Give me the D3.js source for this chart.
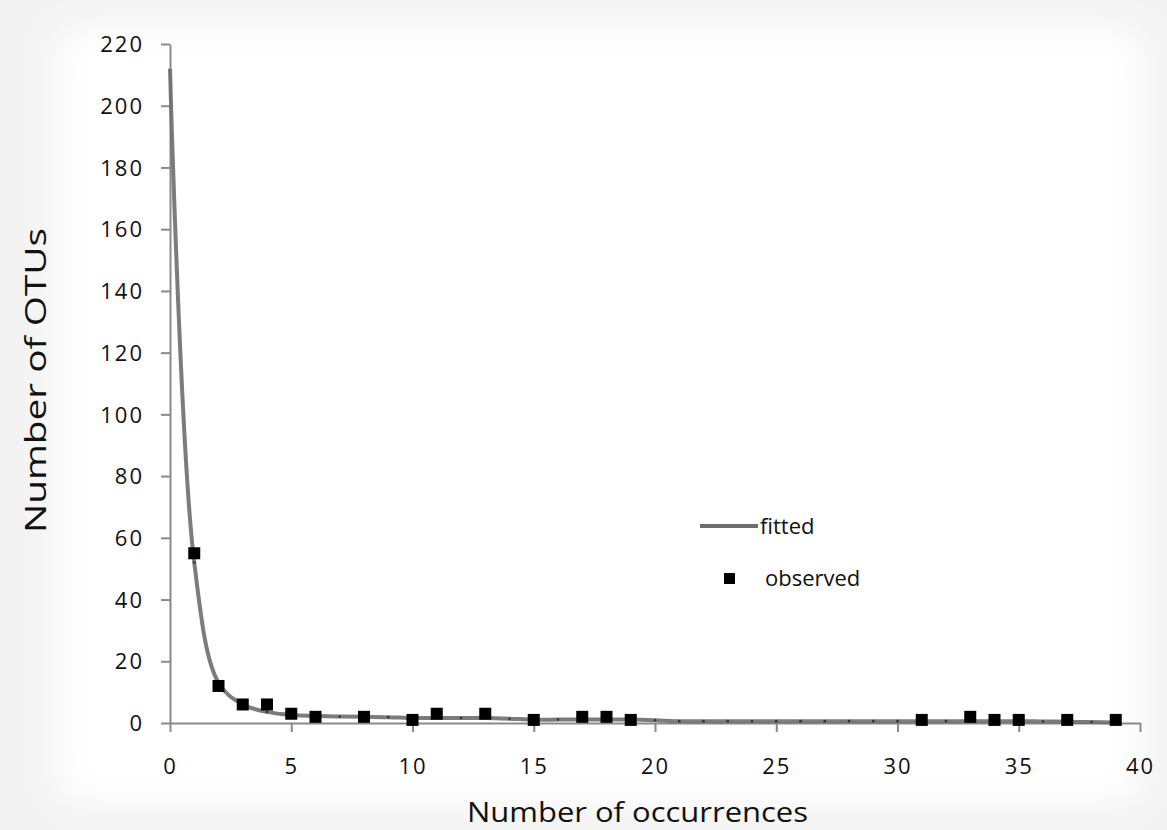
<!DOCTYPE html>
<html><head><meta charset="utf-8">
<script src="https://cdn.jsdelivr.net/npm/d3@7"></script>
<style>
html,body{margin:0;padding:0;background:#f3f3f3;}
svg{display:block;}
text{font-family:"Open Sans","DejaVu Sans",sans-serif;fill:#111;}
</style></head>
<body>
<svg id="chart" width="1167" height="830"></svg>
<script>
const xTicks = [0,5,10,15,20,25,30,35,40];
const yTicks = [0,20,40,60,80,100,120,140,160,180,200,220];
const fittedX = [0,1,2,3,4,5,6,7,8,9,10,11,12,13,14,15,16,17,18,19,20,21,22,23,24,25,26,27,28,29,30,31,32,33,34,35,36,37,38,39];
const fittedY = [212,52,13,6,3.6,2.6,2.3,2.1,2.0,1.9,1.6,1.6,1.6,1.6,1.4,1.1,1.1,1.1,1.1,1.1,0.9,0.6,0.6,0.6,0.6,0.6,0.6,0.6,0.6,0.6,0.6,0.6,0.6,0.6,0.6,0.6,0.5,0.4,0.3,0.2];
const obsX = [1,2,3,4,5,6,8,10,11,13,15,17,18,19,31,33,34,35,37,39];
const obsY = [55,12,6,6,3,2,2,1,3,3,1,2,2,1,1,2,1,1,1,1];
const seriesNames = ["fitted","observed"];
const xTitle = "Number of occurrences";
const yTitle = "Number of OTUs";

const svg = d3.select("#chart");
const defs = svg.append("defs");
const f = defs.append("filter").attr("id","blur").attr("x","-5%").attr("y","-5%").attr("width","110%").attr("height","110%");
f.append("feGaussianBlur").attr("stdDeviation",18);
svg.append("rect").attr("x",55).attr("y",25).attr("width",1090).attr("height",780).attr("rx",30).attr("fill","#fff").attr("filter","url(#blur)");

const x = d3.scaleLinear().domain([0,40]).range([170,1140]);
const y = d3.scaleLinear().domain([0,220]).range([723,44]);

// axes
const xAxis = svg.append("g").attr("transform",`translate(0,${y(0)})`)
  .call(d3.axisBottom(x).tickValues(xTicks).tickSize(9).tickPadding(22).tickSizeOuter(0));
const yAxis = svg.append("g").attr("transform",`translate(${x(0)},0)`)
  .call(d3.axisLeft(y).tickValues(yTicks).tickSize(9).tickPadding(17).tickSizeOuter(0));
[xAxis,yAxis].forEach(g=>{
  g.select(".domain").attr("stroke","#8a8a8a").attr("stroke-width",2);
  g.selectAll(".tick line").attr("stroke","#8a8a8a").attr("stroke-width",2);
  g.selectAll(".tick text").attr("font-size",22).attr("letter-spacing","2px").attr("fill","#111")
   .attr("font-family","'Open Sans','DejaVu Sans',sans-serif");
});
xAxis.selectAll(".tick text").attr("dy","0.9em");
yAxis.selectAll(".tick text").attr("dy","0.35em");

// fitted line
const fitted = fittedX.map((v,i)=>[v,fittedY[i]]);
const line = d3.line().x(d=>x(d[0])).y(d=>y(d[1])).curve(d3.curveCatmullRom.alpha(0.5));
svg.append("path").datum(fitted).attr("d",line).attr("fill","none")
  .attr("stroke","#6e6e6e").attr("stroke-width",4).attr("stroke-linejoin","round").attr("opacity",0.9);
svg.append("g").selectAll("circle").data(fitted.slice(1)).join("circle")
  .attr("cx",d=>x(d[0])).attr("cy",d=>y(d[1])).attr("r",1.3).attr("fill","#333");

// observed markers
const ms = 12;
svg.append("g").selectAll("rect").data(obsX.map((v,i)=>[v,obsY[i]])).join("rect")
  .attr("x",d=>x(d[0])-ms/2).attr("y",d=>y(d[1])-ms/2).attr("width",ms).attr("height",ms).attr("fill","#000");

// legend
const lg = svg.append("g");
lg.append("line").attr("x1",700).attr("x2",758).attr("y1",526).attr("y2",526).attr("stroke","#6e6e6e").attr("stroke-width",4);
lg.append("text").attr("x",760).attr("y",534).attr("font-size",22).text(seriesNames[0]);
lg.append("rect").attr("x",724).attr("y",573).attr("width",11).attr("height",11).attr("fill","#000");
lg.append("text").attr("x",765).attr("y",586).attr("font-size",22).text(seriesNames[1]);

// titles
svg.append("text").attr("x",467).attr("y",822).attr("font-size",28)
  .attr("textLength",341).attr("lengthAdjust","spacingAndGlyphs").text(xTitle);
svg.append("text").attr("transform","translate(46,533) rotate(-90)").attr("font-size",29)
  .attr("textLength",305).attr("lengthAdjust","spacingAndGlyphs").text(yTitle);
</script>
</body></html>
